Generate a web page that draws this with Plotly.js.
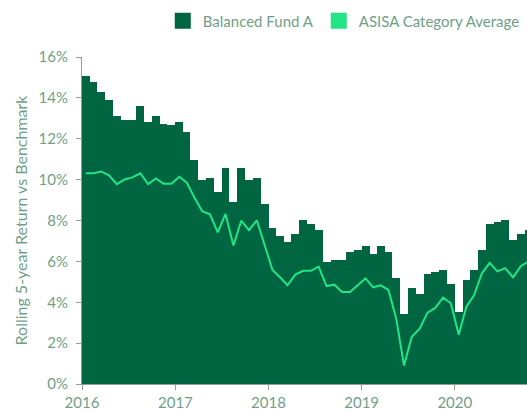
<!DOCTYPE html>
<html>
<head>
<meta charset="utf-8">
<script src="https://cdn.plot.ly/plotly-3.0.1.min.js"></script>
<style>html,body{margin:0;padding:0;background:#fff;}#chart{width:527px;height:411px;}</style>
</head>
<body>
<div id="chart"></div>
<script>
// Monthly periods, Jan 2016 – Oct 2020
const months = [
  "2016-01","2016-02","2016-03","2016-04","2016-05","2016-06","2016-07","2016-08","2016-09","2016-10","2016-11","2016-12",
  "2017-01","2017-02","2017-03","2017-04","2017-05","2017-06","2017-07","2017-08","2017-09","2017-10","2017-11","2017-12",
  "2018-01","2018-02","2018-03","2018-04","2018-05","2018-06","2018-07","2018-08","2018-09","2018-10","2018-11","2018-12",
  "2019-01","2019-02","2019-03","2019-04","2019-05","2019-06","2019-07","2019-08","2019-09","2019-10","2019-11","2019-12",
  "2020-01","2020-02","2020-03","2020-04","2020-05","2020-06","2020-07","2020-08","2020-09","2020-10"
];
// Rolling 5-year return (%)
const balancedFundA = [
  15.08,14.77,14.29,13.90,13.11,12.92,12.92,13.60,12.82,13.11,12.72,12.66,
  12.82,12.34,10.96,9.98,10.08,9.39,10.57,8.90,10.57,9.98,10.08,8.80,
  7.63,7.24,6.95,7.34,8.02,7.83,7.53,5.97,6.07,6.07,6.46,6.56,
  6.75,6.36,6.75,6.46,5.19,3.42,4.70,4.40,5.38,5.48,5.58,4.89,
  3.52,5.09,5.58,6.56,7.83,7.93,8.02,7.05,7.34,7.53
];
const asisaCategoryAverage = [
  10.31,10.31,10.40,10.21,9.78,10.01,10.11,10.31,9.78,10.06,9.80,9.80,
  10.14,9.85,9.12,8.45,8.30,7.42,8.32,6.78,7.99,7.53,8.01,6.80,
  5.58,5.22,4.83,5.35,5.54,5.54,5.74,4.79,4.86,4.50,4.50,4.83,
  5.17,4.73,4.83,4.60,3.20,0.90,2.31,2.71,3.49,3.72,4.22,3.95,
  2.41,3.78,4.34,5.41,5.93,5.51,5.67,5.22,5.77,6.00
];
const seriesNames = ["Balanced Fund A", "ASISA Category Average"];
const yTickVals = [0,2,4,6,8,10,12,14,16];
const yTickText = ["0%","2%","4%","6%","8%","10%","12%","14%","16%"];

const FUND_COLOR = "#006641";
const AVG_COLOR = "#22e585";
const TEXT_COLOR = "#6f9f8a";

// bar width = length of each month in ms
const monthWidths = months.map(m => {
  const [y, mo] = m.split("-").map(Number);
  return Date.UTC(y, mo, 1) - Date.UTC(y, mo - 1, 1);
});

const traces = [
  {
    type: "bar", x: months, y: balancedFundA, width: monthWidths,
    xperiod: "M1", xperiodalignment: "middle",
    marker: {color: FUND_COLOR, line: {width: 0}},
    name: seriesNames[0], showlegend: false, hoverinfo: "skip"
  },
  {
    type: "scatter", mode: "lines", x: months, y: asisaCategoryAverage,
    xperiod: "M1", xperiodalignment: "middle",
    line: {color: AVG_COLOR, width: 2},
    name: seriesNames[1], showlegend: false, hoverinfo: "skip"
  },
  // legend entries (square swatches)
  {type: "scatter", mode: "markers", x: [null], y: [null], name: seriesNames[0],
   marker: {symbol: "square", size: 16, color: FUND_COLOR}},
  {type: "scatter", mode: "markers", x: [null], y: [null], name: seriesNames[1],
   marker: {symbol: "square", size: 16, color: AVG_COLOR}}
];

const layout = {
  width: 527, height: 411,
  margin: {l: 82, r: 0, t: 57, b: 27},
  paper_bgcolor: "#fff", plot_bgcolor: "#fff",
  font: {family: "Lato, 'Open Sans', sans-serif", size: 15, color: TEXT_COLOR},
  barmode: "overlay", bargap: 0,
  showlegend: true,
  legend: {
    orientation: "h", x: 0.995, xanchor: "right", y: 1.11, yanchor: "middle",
    font: {size: 15, color: TEXT_COLOR}, bgcolor: "rgba(0,0,0,0)"
  },
  xaxis: {
    type: "date", range: ["2016-01-01", "2020-10-10"],
    dtick: "M12", tick0: "2016-01-01", tickformat: "%Y",
    ticks: "outside", ticklen: 5, tickcolor: "#999", tickwidth: 1,
    showline: true, linecolor: "#999", linewidth: 1,
    showgrid: false, zeroline: false,
    tickfont: {size: 15, color: TEXT_COLOR}
  },
  yaxis: {
    range: [0, 16], tickvals: yTickVals, ticktext: yTickText,
    ticks: "outside", ticklen: 5, tickcolor: "#999", tickwidth: 1,
    ticklabelstandoff: 5,
    showline: true, linecolor: "#999", linewidth: 1,
    showgrid: false, zeroline: false,
    tickfont: {size: 15, color: TEXT_COLOR},
    title: {text: "Rolling 5-year Return vs Benchmark", font: {size: 16, color: TEXT_COLOR}, standoff: 6}
  }
};

Plotly.newPlot("chart", traces, layout, {displayModeBar: false, staticPlot: true});
</script>
</body>
</html>
